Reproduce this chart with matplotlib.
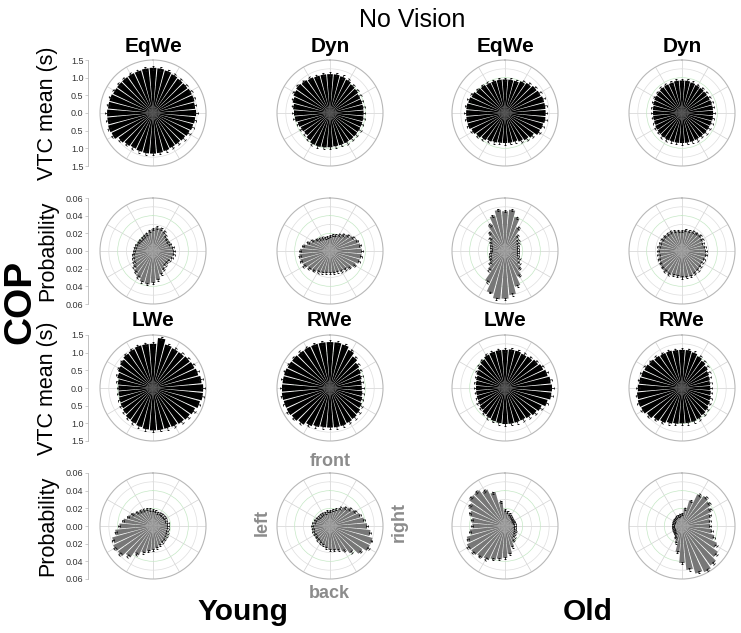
import numpy as np
import matplotlib
matplotlib.use("Agg")
import matplotlib.pyplot as plt

plt.rcParams['font.family'] = ['Liberation Sans', 'DejaVu Sans']

# directions of the bars (deg, clockwise from "front")
angles = list(range(0, 360, 10))

# --- VTC mean (s), top row ---
young_eqwe_vtc = [1.28, 1.27, 1.25, 1.22, 1.20, 1.20, 1.22, 1.22, 1.20, 1.22, 1.20, 1.18,
                  1.15, 1.12, 1.10, 1.10, 1.12, 1.14, 1.15, 1.15, 1.14, 1.12, 1.15, 1.20,
                  1.30, 1.32, 1.30, 1.30, 1.28, 1.28, 1.25, 1.25, 1.25, 1.25, 1.25, 1.27]
young_dyn_vtc = [1.10, 1.10, 1.08, 1.05, 1.00, 0.98, 0.95, 0.95, 0.95, 0.95, 0.95, 0.95,
                 0.95, 0.95, 0.95, 0.95, 0.95, 0.95, 0.97, 0.98, 1.00, 1.00, 0.95, 0.90,
                 0.92, 0.95, 1.00, 1.02, 1.05, 1.10, 1.15, 1.18, 1.15, 1.12, 1.10, 1.10]
old_eqwe_vtc = [0.95, 0.95, 0.95, 1.00, 1.05, 1.10, 1.12, 1.15, 1.15, 1.15, 1.15, 1.12,
                1.10, 1.00, 0.95, 0.90, 0.85, 0.85, 0.85, 0.85, 0.87, 0.90, 0.95, 1.00,
                1.05, 1.10, 1.10, 1.10, 1.10, 1.08, 1.05, 1.00, 0.98, 0.95, 0.95, 0.95]
old_dyn_vtc = [0.92, 0.92, 0.90, 0.88, 0.88, 0.87, 0.87, 0.88, 0.88, 0.88, 0.88, 0.87,
               0.86, 0.86, 0.85, 0.85, 0.85, 0.85, 0.85, 0.85, 0.85, 0.86, 0.86, 0.85,
               0.84, 0.82, 0.82, 0.82, 0.83, 0.85, 0.87, 0.88, 0.90, 0.90, 0.90, 0.92]

# --- Probability, second row ---
young_eqwe_prob = [0.025, 0.027, 0.027, 0.025, 0.022, 0.020, 0.020, 0.021, 0.023, 0.024, 0.024, 0.023,
                   0.021, 0.020, 0.021, 0.024, 0.028, 0.033, 0.036, 0.038, 0.037, 0.034, 0.031, 0.028,
                   0.025, 0.024, 0.023, 0.022, 0.021, 0.020, 0.019, 0.019, 0.019, 0.020, 0.021, 0.023]
young_dyn_prob = [0.017, 0.018, 0.019, 0.021, 0.024, 0.027, 0.030, 0.033, 0.035, 0.036, 0.036, 0.035,
                  0.032, 0.029, 0.027, 0.026, 0.025, 0.025, 0.025, 0.025, 0.026, 0.027, 0.029, 0.031,
                  0.034, 0.035, 0.035, 0.034, 0.031, 0.027, 0.023, 0.020, 0.018, 0.017, 0.016, 0.016]
old_eqwe_prob = [0.045, 0.047, 0.040, 0.030, 0.022, 0.019, 0.017, 0.016, 0.015, 0.015, 0.015, 0.016,
                 0.018, 0.021, 0.026, 0.032, 0.042, 0.050, 0.054, 0.055, 0.050, 0.040, 0.028, 0.022,
                 0.019, 0.018, 0.017, 0.016, 0.016, 0.017, 0.019, 0.022, 0.027, 0.034, 0.042, 0.047]
old_dyn_prob = [0.023, 0.024, 0.024, 0.025, 0.026, 0.027, 0.026, 0.025, 0.026, 0.027, 0.028, 0.027,
                0.026, 0.027, 0.028, 0.029, 0.030, 0.030, 0.030, 0.029, 0.029, 0.030, 0.030, 0.029,
                0.028, 0.028, 0.027, 0.027, 0.027, 0.026, 0.026, 0.026, 0.025, 0.025, 0.024, 0.023]

# --- VTC mean (s), third row ---
young_lwe_vtc = [1.25, 1.42, 1.28, 1.25, 1.25, 1.28, 1.30, 1.33, 1.38, 1.42, 1.42, 1.38,
                 1.32, 1.28, 1.25, 1.22, 1.20, 1.20, 1.20, 1.18, 1.15, 1.12, 1.10, 1.05,
                 1.02, 1.00, 0.98, 0.98, 1.00, 1.05, 1.10, 1.15, 1.20, 1.22, 1.25, 1.25]
young_rwe_vtc = [1.30, 1.30, 1.28, 1.20, 1.10, 1.02, 0.97, 0.93, 0.90, 0.90, 0.92, 0.95,
                 1.00, 1.05, 1.08, 1.10, 1.12, 1.12, 1.12, 1.12, 1.15, 1.20, 1.28, 1.33,
                 1.36, 1.36, 1.37, 1.36, 1.35, 1.35, 1.33, 1.32, 1.30, 1.30, 1.30, 1.30]
old_lwe_vtc = [1.08, 1.10, 1.10, 1.08, 1.10, 1.15, 1.20, 1.25, 1.30, 1.33, 1.32, 1.25,
               1.15, 1.10, 1.05, 1.02, 1.02, 1.02, 1.02, 1.00, 0.98, 0.95, 0.92, 0.88,
               0.85, 0.83, 0.82, 0.82, 0.83, 0.85, 0.90, 0.95, 1.00, 1.05, 1.07, 1.08]
old_rwe_vtc = [1.08, 1.08, 1.05, 1.00, 0.95, 0.90, 0.85, 0.82, 0.80, 0.80, 0.82, 0.85,
               0.88, 0.92, 0.95, 0.98, 1.00, 1.00, 1.00, 1.02, 1.05, 1.10, 1.15, 1.22,
               1.28, 1.30, 1.28, 1.25, 1.22, 1.20, 1.18, 1.15, 1.12, 1.10, 1.10, 1.08]

# --- Probability, bottom row ---
young_lwe_prob = [0.018, 0.017, 0.016, 0.016, 0.016, 0.016, 0.016, 0.016, 0.017, 0.017, 0.017, 0.017,
                  0.018, 0.019, 0.020, 0.021, 0.023, 0.025, 0.027, 0.029, 0.032, 0.037, 0.044, 0.049,
                  0.050, 0.048, 0.043, 0.038, 0.034, 0.030, 0.027, 0.024, 0.022, 0.021, 0.020, 0.019]
young_rwe_prob = [0.017, 0.018, 0.020, 0.023, 0.027, 0.030, 0.033, 0.036, 0.039, 0.042, 0.046, 0.050,
                  0.050, 0.045, 0.038, 0.032, 0.029, 0.028, 0.027, 0.025, 0.023, 0.022, 0.021, 0.020,
                  0.020, 0.020, 0.020, 0.020, 0.019, 0.018, 0.017, 0.016, 0.016, 0.016, 0.016, 0.017]
old_lwe_prob = [0.018, 0.016, 0.014, 0.013, 0.012, 0.011, 0.011, 0.011, 0.011, 0.011, 0.011, 0.012,
                0.013, 0.014, 0.016, 0.019, 0.025, 0.032, 0.036, 0.038, 0.040, 0.043, 0.045, 0.047,
                0.048, 0.045, 0.040, 0.037, 0.038, 0.042, 0.046, 0.050, 0.050, 0.046, 0.040, 0.028]
old_rwe_prob = [0.014, 0.020, 0.030, 0.040, 0.042, 0.040, 0.037, 0.034, 0.032, 0.032, 0.034, 0.038,
                0.044, 0.050, 0.055, 0.058, 0.056, 0.050, 0.042, 0.030, 0.020, 0.015, 0.012, 0.011,
                0.010, 0.010, 0.010, 0.010, 0.010, 0.010, 0.010, 0.011, 0.011, 0.012, 0.012, 0.013]

vtc_err = 0.05
prob_err = 0.0012

vtc_ticks = [-1.5, -1.0, -0.5, 0.0, 0.5, 1.0, 1.5]
vtc_ticklabels = ['1.5', '1.0', '0.5', '0.0', '0.5', '1.0', '1.5']
prob_ticks = [-0.06, -0.04, -0.02, 0.0, 0.02, 0.04, 0.06]
prob_ticklabels = ['0.06', '0.04', '0.02', '0.00', '0.02', '0.04', '0.06']

rows = [
    ([young_eqwe_vtc, young_dyn_vtc, old_eqwe_vtc, old_dyn_vtc], 'vtc', ['EqWe', 'Dyn', 'EqWe', 'Dyn']),
    ([young_eqwe_prob, young_dyn_prob, old_eqwe_prob, old_dyn_prob], 'prob', None),
    ([young_lwe_vtc, young_rwe_vtc, old_lwe_vtc, old_rwe_vtc], 'vtc', ['LWe', 'RWe', 'LWe', 'RWe']),
    ([young_lwe_prob, young_rwe_prob, old_lwe_prob, old_rwe_prob], 'prob', None),
]

# layout in pixels
W, H = 741, 633
col_x = [153, 330, 505, 682]
row_y = [113, 251, 388, 526]
rad = 53


def box(cx, cy, w, h):
    return [(cx - w / 2) / W, 1 - (cy + h / 2) / H, w / W, h / H]


fig = plt.figure(figsize=(W / 100, H / 100), dpi=100)
theta = np.deg2rad(angles)
step = np.deg2rad(10)

for r, (panels, kind, titles) in enumerate(rows):
    if kind == 'vtc':
        rmax, color, err = 1.5, 'black', vtc_err
        rings = [0.25, 0.5, 0.75, 1.0, 1.25]
        ticks, ticklabels = vtc_ticks, vtc_ticklabels
        ylabel = 'VTC mean (s)'
    else:
        rmax, color, err = 0.06, '#777777', prob_err
        rings = [0.01, 0.02, 0.03, 0.04, 0.05]
        ticks, ticklabels = prob_ticks, prob_ticklabels
        ylabel = 'Probability'

    for c, vals in enumerate(panels):
        cx, cy = col_x[c], row_y[r]
        ax = fig.add_axes(box(cx, cy, 2 * rad, 2 * rad), projection='polar')
        ax.set_theta_zero_location('N')
        ax.set_theta_direction(-1)
        ax.set_axisbelow(True)
        ax.bar(theta, vals, width=step * 0.86, bottom=0, color=color,
               linewidth=0, zorder=2)
        ax.errorbar(theta, vals, yerr=err, fmt='none', ecolor='#111111',
                    elinewidth=0.6, capsize=0.8, capthick=0.6, zorder=3)
        ax.set_ylim(0, rmax)
        ax.set_thetagrids(range(0, 360, 30), labels=[])
        ax.set_rgrids(rings, labels=[])
        ax.grid(True, lw=0.5)
        for gl in ax.xaxis.get_gridlines():
            gl.set_color('#d2d2d2')
        for i, gl in enumerate(ax.yaxis.get_gridlines()):
            gl.set_color('#c6e8c6' if i % 2 else '#dedede')
        ax.spines['polar'].set_color('#b8b8b8')
        ax.spines['polar'].set_linewidth(0.8)
        ax.tick_params(length=0)

        if titles:
            fig.text(cx / W, 1 - (cy - 67) / H, titles[c], ha='center', va='center',
                     fontsize=15, fontweight='bold')

        if c == 0:
            sax = fig.add_axes(box(88, cy, 0.5, 2 * rad))
            sax.set_ylim(-rmax, rmax)
            sax.set_yticks(ticks)
            sax.set_yticklabels(ticklabels)
            sax.set_xticks([])
            sax.patch.set_alpha(0)
            for s in ['top', 'right', 'bottom']:
                sax.spines[s].set_visible(False)
            sax.spines['left'].set_color('#b8b8b8')
            sax.spines['left'].set_linewidth(0.6)
            sax.tick_params(axis='y', direction='out', length=2, width=0.5,
                            color='#b8b8b8', labelsize=6.5, labelcolor='#333333', pad=1)
            fig.text(48 / W, 1 - cy / H, ylabel, rotation=90, ha='center', va='center',
                     fontsize=15.5)

fig.text(412 / W, 1 - 20 / H, 'No Vision', ha='center', va='center', fontsize=18)
fig.text(20 / W, 1 - 302 / H, 'COP', rotation=90, ha='center', va='center',
         fontsize=28, fontweight='bold')
fig.text(243 / W, 1 - 612 / H, 'Young', ha='center', va='center', fontsize=21.5, fontweight='bold')
fig.text(588 / W, 1 - 612 / H, 'Old', ha='center', va='center', fontsize=21.5, fontweight='bold')

gray = '#8c8c8c'
fig.text(330 / W, 1 - 462 / H, 'front', ha='center', va='center', fontsize=13, fontweight='bold', color=gray)
fig.text(329 / W, 1 - 594 / H, 'back', ha='center', va='center', fontsize=13, fontweight='bold', color=gray)
fig.text(262 / W, 1 - 522 / H, 'left', rotation=90, ha='center', va='center', fontsize=13,
         fontweight='bold', color=gray)
fig.text(399 / W, 1 - 522 / H, 'right', rotation=90, ha='center', va='center', fontsize=13,
         fontweight='bold', color=gray)

fig.savefig('out.png', dpi=100)
